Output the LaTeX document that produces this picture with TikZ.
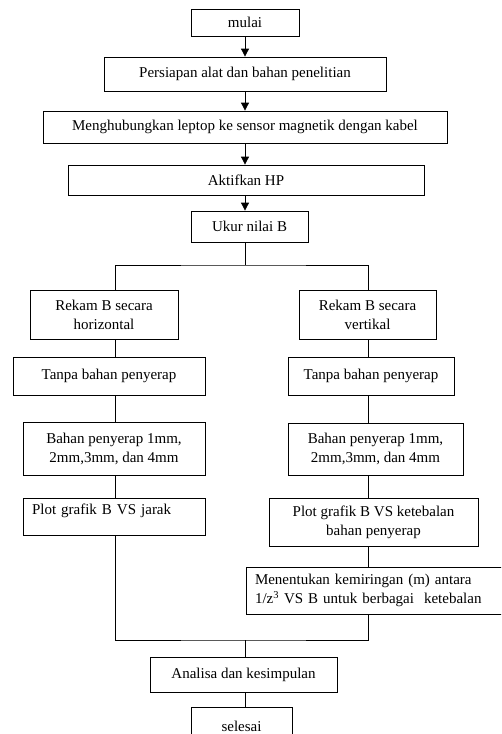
\documentclass[tikz,border=0pt]{standalone}
\usepackage{fontspec}
\setmainfont{Liberation Serif}
\usetikzlibrary{positioning,arrows.meta}
\tikzstyle{box}=[rectangle, draw, inner sep=3pt, align=center]
\begin{document}
\begin{tikzpicture}[%
    >={Triangle[length=8pt,width=8pt]},
    x=1pt, y=-1pt,
    line width=0.8pt,
    font=\fontsize{15}{19}\selectfont
  ]
      \useasboundingbox (0,0) rectangle (501,734);
      \clip (0,0) rectangle (501,734);
      \coordinate (trunk) at (245,0);
      \coordinate (colL) at (115,0);
      \coordinate (colR) at (368,0);

      %Main column
      \draw (245,22.5) node[box, minimum width=108, minimum height=27] (mulai) {mulai};
      \draw (245,74) node[box, minimum width=282, minimum height=34] (persiapan) {Persiapan alat dan bahan penelitian};
      \draw (245,127) node[box, minimum width=404, minimum height=32] (hubung) {Menghubungkan leptop ke sensor magnetik dengan kabel};
      \draw (246,180) node[box, minimum width=356, minimum height=30] (aktif) {Aktifkan HP};
      \draw (249.5,226.5) node[box, minimum width=117, minimum height=31] (ukur) {Ukur nilai B};

      \draw [->] (trunk |- mulai.south) -- (trunk |- persiapan.north);
      \draw [->] (trunk |- persiapan.south) -- (trunk |- hubung.north);
      \draw [->] (trunk |- hubung.south) -- (trunk |- aktif.north);
      \draw [->] (trunk |- aktif.south) -- (trunk |- ukur.north);

      %Horizontal branch
      \draw (104,314.5) node[box, minimum width=148, minimum height=49] (rekamH) {Rekam B secara\\horizontal};
      \draw (109,376) node[box, minimum width=192, minimum height=38] (tanpaH) {Tanpa bahan penyerap};
      \draw (114,448.5) node[box, minimum width=182, minimum height=53] (bahanH) {Bahan penyerap 1mm,\\2mm,3mm, dan 4mm};
      \draw (114,516.5) node[box, minimum width=182, minimum height=37, text width=164, align=left] (plotH) {\raisebox{2pt}[0pt][0pt]{Plot grafik B VS jarak}};

      %Vertical branch
      \draw (367.5,314.5) node[box, minimum width=137, minimum height=49] (rekamV) {Rekam B secara\\vertikal};
      \draw (371,376) node[box, minimum width=166, minimum height=38] (tanpaV) {Tanpa bahan penyerap};
      \draw (375.5,449) node[box, minimum width=175, minimum height=52] (bahanV) {Bahan penyerap 1mm,\\2mm,3mm, dan 4mm};
      \draw (373.5,522) node[box, minimum width=209, minimum height=48] (plotV) {Plot grafik B VS ketebalan\\bahan penyerap};
      \draw (378,590.5) node[box, minimum width=264, minimum height=47, text width=246, align=left] (miring) {Menentukan kemiringan (m) antara\\1/z\textsuperscript{3} VS B untuk berbagai~ ketebalan};

      %End
      \draw (243.5,674.5) node[box, minimum width=187, minimum height=35] (analisa) {Analisa dan kesimpulan};
      \draw (241.5,726) node[box, minimum width=101, minimum height=38] (selesai) {selesai};

      %Split and join
      \coordinate (split) at (245,265);
      \coordinate (join) at (245,640);
      \draw (trunk |- ukur.south) -- (split);
      \draw (colL |- rekamH.north) |- (split) -| (colR |- rekamV.north);
      \draw (colL |- rekamH.south) -- (colL |- tanpaH.north);
      \draw (colL |- tanpaH.south) -- (colL |- bahanH.north);
      \draw (colL |- bahanH.south) -- (colL |- plotH.north);
      \draw (colR |- rekamV.south) -- (colR |- tanpaV.north);
      \draw (colR |- tanpaV.south) -- (colR |- bahanV.north);
      \draw (colR |- bahanV.south) -- (colR |- plotV.north);
      \draw (colR |- plotV.south) -- (colR |- miring.north);
      \draw (colL |- plotH.south) |- (join) -| (colR |- miring.south);
      \draw (join) -- (trunk |- analisa.north);
      \draw (trunk |- analisa.south) -- (trunk |- selesai.north);
\end{tikzpicture}
\end{document}
